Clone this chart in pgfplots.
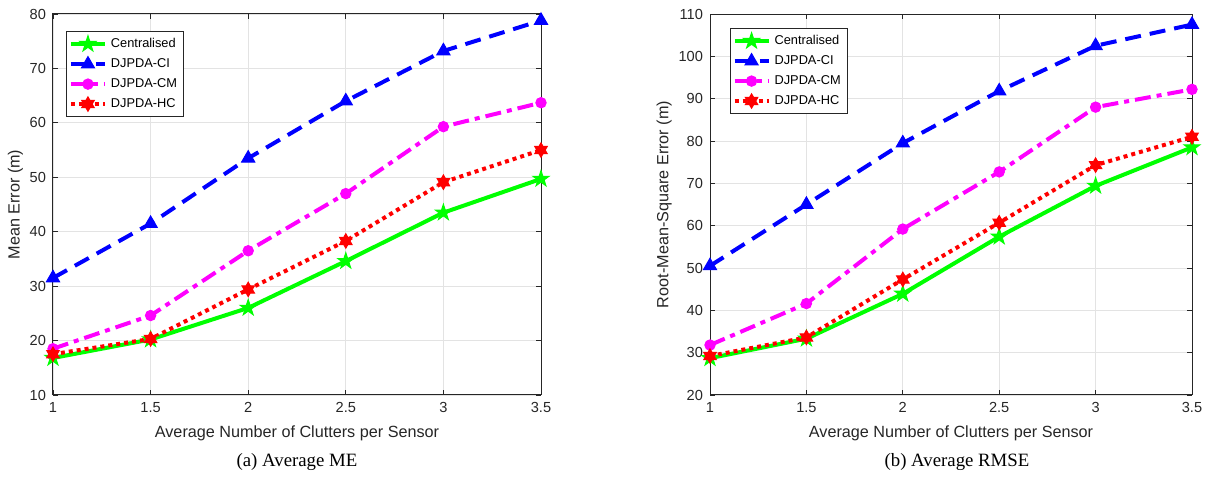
\documentclass[border=0pt]{standalone}
\usepackage{pgfplots}
\pgfplotsset{compat=1.18}
\usepackage{fontspec}
\setmainfont{Liberation Sans}
\newfontfamily\capfont{Liberation Serif}

\definecolor{axgray}{RGB}{38,38,38}
\definecolor{mgreen}{RGB}{0,255,0}
\definecolor{mblue}{RGB}{0,0,255}
\definecolor{mmag}{RGB}{255,0,255}
\definecolor{mred}{RGB}{255,0,0}

% filled five-pointed star (MATLAB 'p')
\pgfdeclareplotmark{pentagram}{%
  \pgfpathmoveto{\pgfpointpolar{90}{\pgfplotmarksize}}%
  \pgfpathlineto{\pgfpointpolar{126}{0.382\pgfplotmarksize}}%
  \pgfpathlineto{\pgfpointpolar{162}{\pgfplotmarksize}}%
  \pgfpathlineto{\pgfpointpolar{198}{0.382\pgfplotmarksize}}%
  \pgfpathlineto{\pgfpointpolar{234}{\pgfplotmarksize}}%
  \pgfpathlineto{\pgfpointpolar{270}{0.382\pgfplotmarksize}}%
  \pgfpathlineto{\pgfpointpolar{306}{\pgfplotmarksize}}%
  \pgfpathlineto{\pgfpointpolar{342}{0.382\pgfplotmarksize}}%
  \pgfpathlineto{\pgfpointpolar{18}{\pgfplotmarksize}}%
  \pgfpathlineto{\pgfpointpolar{54}{0.382\pgfplotmarksize}}%
  \pgfpathclose
  \pgfusepathqfillstroke}
% filled six-pointed star (MATLAB 'h')
\pgfdeclareplotmark{hexagram}{%
  \pgfpathmoveto{\pgfpointpolar{90}{\pgfplotmarksize}}%
  \pgfpathlineto{\pgfpointpolar{120}{0.577\pgfplotmarksize}}%
  \pgfpathlineto{\pgfpointpolar{150}{\pgfplotmarksize}}%
  \pgfpathlineto{\pgfpointpolar{180}{0.577\pgfplotmarksize}}%
  \pgfpathlineto{\pgfpointpolar{210}{\pgfplotmarksize}}%
  \pgfpathlineto{\pgfpointpolar{240}{0.577\pgfplotmarksize}}%
  \pgfpathlineto{\pgfpointpolar{270}{\pgfplotmarksize}}%
  \pgfpathlineto{\pgfpointpolar{300}{0.577\pgfplotmarksize}}%
  \pgfpathlineto{\pgfpointpolar{330}{\pgfplotmarksize}}%
  \pgfpathlineto{\pgfpointpolar{0}{0.577\pgfplotmarksize}}%
  \pgfpathlineto{\pgfpointpolar{30}{\pgfplotmarksize}}%
  \pgfpathlineto{\pgfpointpolar{60}{0.577\pgfplotmarksize}}%
  \pgfpathclose
  \pgfusepathqfillstroke}

\pgfplotsset{
  myaxis/.style={
    scale only axis, width=244pt, height=190.5pt,
    xmin=1, xmax=3.5, xtick={1,1.5,2,2.5,3,3.5},
    grid=major, major grid style={gray!22, line width=0.4pt},
    tick align=inside, major tick length=2.5pt,
    axis line style={axgray, line width=0.5pt},
    every tick/.style={axgray},
    tick label style={font=\fontsize{7.3}{8}\selectfont, text=axgray},
    label style={font=\fontsize{8.1}{9}\selectfont, text=axgray},
    /pgf/number format/assume math mode=true,
    xlabel={Average Number of Clutters per Sensor},
    ylabel shift={-3.5pt},
    legend style={font=\fontsize{6.4}{7}\selectfont, draw=axgray, anchor=north west, inner sep=1.2pt},
    legend cell align=left,
    legend image code/.code={\draw[mark repeat=2,mark phase=2] plot coordinates {(0pt,0pt) (8.5pt,0pt) (17pt,0pt)};},
  },
  cen/.style={mgreen, line width=2pt, mark=pentagram, mark size=4.2pt, mark options={solid, fill=mgreen, line width=0.5pt}},
  ci/.style={mblue, line width=2pt, dash pattern=on 8pt off 4.5pt, mark=triangle*, mark size=3.8pt, mark options={solid, fill=mblue, line width=0.5pt}},
  cm/.style={mmag, line width=2pt, dash pattern=on 8pt off 3pt on 2.5pt off 3pt, mark=*, mark size=2.6pt, mark options={solid, fill=mmag, line width=0.5pt}},
  hc/.style={mred, line width=2pt, dash pattern=on 2pt off 2pt, mark=hexagram, mark size=3.6pt, mark options={solid, fill=mred, line width=0.5pt}},
}

\begin{document}
\begin{tikzpicture}
\useasboundingbox (-26.5pt,-46pt) rectangle (578.5pt,197.5pt);

\begin{axis}[myaxis, at={(0pt,0pt)}, anchor=south west,
  ymin=10, ymax=80, ytick={10,20,...,80},
  ylabel={Mean Error (m)},
  legend style={at={(0.027,0.955)}}]
\addplot[cen] coordinates {(1,16.8) (1.5,20.2) (2,26.0) (2.5,34.6) (3,43.5) (3.5,49.7)};
\addplot[ci] coordinates {(1,31.5) (1.5,41.5) (2,53.5) (2.5,64.0) (3,73.2) (3.5,78.8)};
\addplot[cm] coordinates {(1,18.5) (1.5,24.6) (2,36.5) (2.5,47.0) (3,59.3) (3.5,63.7)};
\addplot[hc] coordinates {(1,17.5) (1.5,20.3) (2,29.4) (2.5,38.3) (3,49.1) (3.5,55.0)};
\legend{Centralised, DJPDA-CI, DJPDA-CM, DJPDA-HC}
\end{axis}

\begin{axis}[myaxis, at={(328.5pt,0pt)}, anchor=south west, width=241pt,
  ymin=20, ymax=110, ytick={20,30,...,110},
  ylabel={Root-Mean-Square Error (m)},
  legend style={at={(0.041,0.963)}}]
\addplot[cen] coordinates {(1,28.7) (1.5,33.3) (2,43.9) (2.5,57.4) (3,69.4) (3.5,78.5)};
\addplot[ci] coordinates {(1,50.5) (1.5,65.0) (2,79.5) (2.5,91.8) (3,102.5) (3.5,107.5)};
\addplot[cm] coordinates {(1,31.8) (1.5,41.6) (2,59.2) (2.5,72.7) (3,88.0) (3.5,92.2)};
\addplot[hc] coordinates {(1,29.2) (1.5,33.6) (2,47.3) (2.5,60.7) (3,74.3) (3.5,81.0)};
\legend{Centralised, DJPDA-CI, DJPDA-CM, DJPDA-HC}
\end{axis}

\node[font=\capfont\fontsize{9.4}{11}\selectfont] at (122pt,-33.5pt) {(a) Average ME};
\node[font=\capfont\fontsize{9.4}{11}\selectfont] at (452pt,-33.5pt) {(b) Average RMSE};
\end{tikzpicture}
\end{document}
